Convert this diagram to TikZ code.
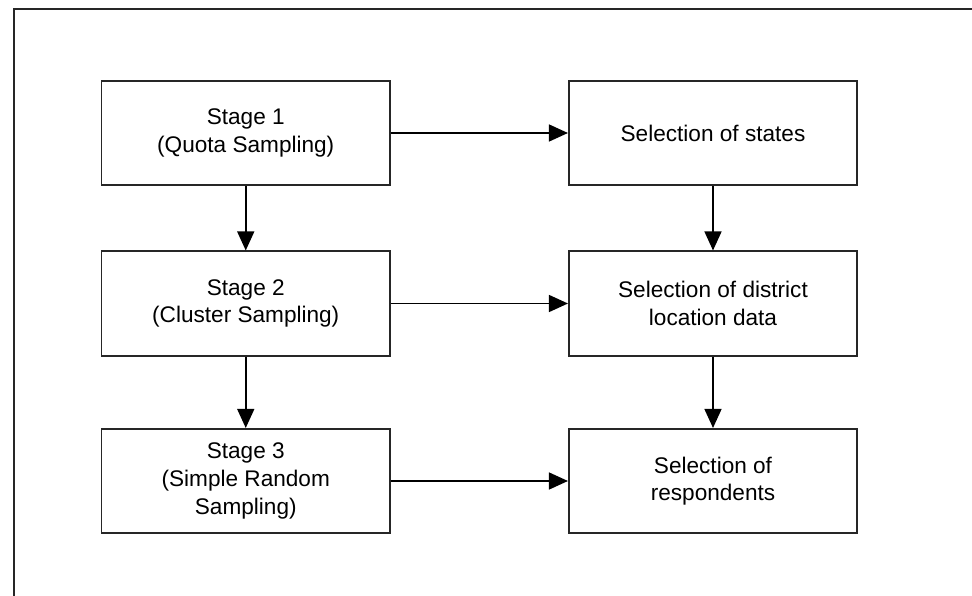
\documentclass[tikz,border=0pt]{standalone}
\usepackage{fontspec}
\setmainfont{Liberation Sans}
\usetikzlibrary{arrows.meta}
\begin{document}
\begin{tikzpicture}[x=1pt,y=-1pt,
  boxnode/.style={draw=black!85, line width=1.6pt, rectangle, minimum width=288.5pt, minimum height=104.5pt,
    align=center, inner sep=0pt, font=\fontsize{22.6}{27.6}\selectfont},
  conn/.style={draw=black, line width=1.5pt, -{Triangle[length=19pt,width=17pt]}}]
\useasboundingbox (0,0) rectangle (972,596);
\begin{scope}
\clip (0,0) rectangle (972,596);
\draw[line width=2pt, black!85] (14,600) -- (14,9) -- (980,9);
\end{scope}
\node[boxnode] (s1) at (245.75,133) {Stage 1\\(Quota Sampling)};
\node[boxnode] (s2) at (245.75,303.5) {Stage 2\\(Cluster Sampling)};
\node[boxnode] (s3) at (245.75,481) {Stage 3\\(Simple Random\\Sampling)};
\node[boxnode] (r1) at (713,133) {Selection of states};
\node[boxnode] (r2) at (713,303.5) {Selection of district\\location data};
\node[boxnode] (r3) at (713,481) {Selection of\\respondents};
\draw[conn] (s1) -- (s2);
\draw[conn] (s2) -- (s3);
\draw[conn] (r1) -- (r2);
\draw[conn] (r2) -- (r3);
\draw[conn] (s1) -- (r1);
\draw[conn] (s2) -- (r2);
\draw[conn] (s3) -- (r3);
\end{tikzpicture}
\end{document}
